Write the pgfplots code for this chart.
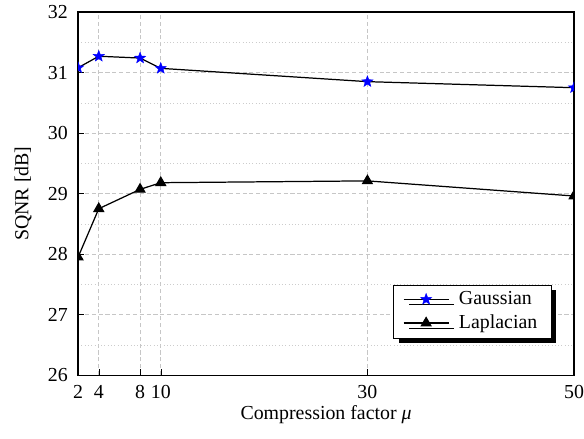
\documentclass[border=0pt]{standalone}
\usepackage{pgfplots}
\pgfplotsset{compat=1.18}
\usepackage{fontspec}
\setmainfont{Liberation Serif}
\usetikzlibrary{shadows}

% filled five-pointed star
\pgfdeclareplotmark{fstar}{%
  \pgfpathmoveto{\pgfpointpolar{90}{\pgfplotmarksize}}%
  \pgfpathlineto{\pgfpointpolar{126}{0.42\pgfplotmarksize}}%
  \pgfpathlineto{\pgfpointpolar{162}{\pgfplotmarksize}}%
  \pgfpathlineto{\pgfpointpolar{198}{0.42\pgfplotmarksize}}%
  \pgfpathlineto{\pgfpointpolar{234}{\pgfplotmarksize}}%
  \pgfpathlineto{\pgfpointpolar{270}{0.42\pgfplotmarksize}}%
  \pgfpathlineto{\pgfpointpolar{306}{\pgfplotmarksize}}%
  \pgfpathlineto{\pgfpointpolar{342}{0.42\pgfplotmarksize}}%
  \pgfpathlineto{\pgfpointpolar{18}{\pgfplotmarksize}}%
  \pgfpathlineto{\pgfpointpolar{54}{0.42\pgfplotmarksize}}%
  \pgfpathclose
  \pgfusepathqfillstroke}

\begin{document}
\begin{tikzpicture}[font=\fontsize{14.5}{17}\selectfont]
\begin{axis}[
  scale only axis,
  width=362pt, height=265pt,
  xmin=2, xmax=50, ymin=26, ymax=32,
  xtick={2,4,8,10,30,50},
  ytick={26,27,...,32},
  minor ytick={26.5,27.5,...,31.5},
  grid=both,
  major grid style={densely dashed, gray!45, line width=0.4pt},
  minor grid style={dotted, gray!40, line width=0.4pt},
  tick style={black},
  tick align=inside,
  xtick pos=left, ytick pos=left,
  minor tick length=0pt,
  axis line style={line width=0.9pt},
  clip marker paths=true,
  /pgf/number format/assume math mode=true,
  yticklabel style={xshift=-4pt},
  xticklabel style={yshift=-4pt, inner xsep=0pt},
  xlabel={Compression factor \textit{μ}},
  ylabel={SQNR [dB]},
  xlabel style={at={(axis description cs:0.5,-0.11)}, anchor=center},
  ylabel style={at={(axis description cs:-0.111,0.5)}, anchor=center},
  legend style={at={(0.954,0.102)}, anchor=south east, draw=black,
    fill=white, font=\fontsize{14.5}{17}\selectfont,
    row sep=2pt, inner xsep=7pt, inner ysep=3pt,
    nodes={inner xsep=3pt},
    /tikz/every odd column/.append style={column sep=4pt},
    drop shadow={shadow xshift=4pt, shadow yshift=-4pt, fill=black, opacity=1}},
  legend cell align=left,
  legend image code/.code={%
    \draw[mark repeat=2, mark phase=2, #1]
      plot coordinates {(0cm,0cm) (0.58cm,0cm) (1.16cm,0cm)};},
]
\addplot[black, line width=0.9pt, mark=fstar, mark size=4.3pt,
  mark options={blue, fill=blue, line width=0.3pt}]
  coordinates {(2,31.08) (4,31.27) (8,31.24) (10,31.07) (30,30.85) (50,30.75)};
\addlegendentry{Gaussian}
\addplot[black, line width=0.9pt, mark=triangle*, mark size=4pt,
  mark options={black}]
  coordinates {(2,27.95) (4,28.75) (8,29.07) (10,29.18) (30,29.21) (50,28.96)};
\addlegendentry{Laplacian}
\end{axis}
\path (-57pt,-46pt) (362pt,273.8pt);
\end{tikzpicture}
\end{document}
